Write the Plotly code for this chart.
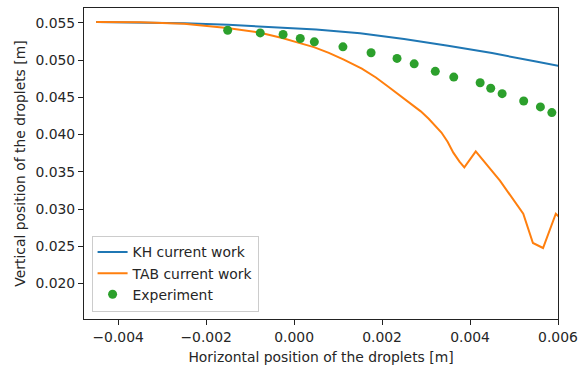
import plotly.graph_objects as go

# KH current work (blue)
kh_x = [-0.0045, -0.0035, -0.0025, -0.0015, -0.0005, 0.0005, 0.0015, 0.0025, 0.0035, 0.0045, 0.0055, 0.0061]
kh_y = [0.05513, 0.05509, 0.05496, 0.05476, 0.05449, 0.05412, 0.05362, 0.05285, 0.05195, 0.05095, 0.04981, 0.04914]

# TAB current work (orange)
tab_x = [-0.0045, -0.0035, -0.0025, -0.00215, -0.00152, -0.00077, -0.00027, 0.00011, 0.00045,
         0.00079, 0.00113, 0.00154, 0.00186, 0.00215, 0.00242, 0.00267, 0.00288, 0.00306, 0.00322,
         0.00335, 0.00349, 0.00362, 0.00376, 0.00387, 0.00413, 0.00468, 0.00521, 0.00543,
         0.00566, 0.00595, 0.00604]
tab_y = [0.05513, 0.05508, 0.05490, 0.05469, 0.05433, 0.05369, 0.05299, 0.05232, 0.05175,
         0.05099, 0.05008, 0.04887, 0.04767, 0.04640, 0.04519, 0.04408, 0.04312, 0.04212, 0.04118,
         0.04028, 0.03904, 0.03757, 0.03636, 0.03560, 0.03774, 0.03382, 0.02936, 0.02543,
         0.02476, 0.02936, 0.02883]

# Experiment (green dots)
exp_x = [-0.00151, -0.00077, -0.00025, 0.00014, 0.00046, 0.00111, 0.00175, 0.00234, 0.00273,
         0.00321, 0.00363, 0.00423, 0.00447, 0.00473, 0.00522, 0.00560, 0.00586]
exp_y = [0.05402, 0.05366, 0.05345, 0.05291, 0.05246, 0.05179, 0.05099, 0.05024, 0.04951,
         0.04850, 0.04773, 0.04697, 0.04622, 0.04550, 0.04452, 0.04372, 0.04296]

x_ticks = [-0.004, -0.002, 0.0, 0.002, 0.004, 0.006]
y_ticks = [0.020, 0.025, 0.030, 0.035, 0.040, 0.045, 0.050, 0.055]

FONT = "DejaVu Sans"
fs = 13.9
TXT = "#262626"

fig = go.Figure()
fig.add_trace(go.Scatter(x=kh_x, y=kh_y, mode="lines", name="KH current work",
                         line=dict(color="#1f77b4", width=2), legendgroup="a"))
fig.add_trace(go.Scatter(x=tab_x, y=tab_y, mode="lines", name="TAB current work",
                         line=dict(color="#ff7f0e", width=2), legendgroup="b"))
fig.add_trace(go.Scatter(x=exp_x, y=exp_y, mode="markers", name="Experiment",
                         marker=dict(color="#2ca02c", size=9), legendgroup="c"))

axis_common = dict(showgrid=False, zeroline=False, showline=True, linecolor="#222222", linewidth=1.1,
                   mirror=True, ticks="outside", ticklen=5, tickwidth=1.1, tickcolor="#222222",
                   tickfont=dict(family=FONT, size=fs, color=TXT))

fig.update_xaxes(range=[-0.004777, 0.006], tickvals=x_ticks,
                 ticktext=[f"{v:.3f}".replace("-", "\u2212") for v in x_ticks],
                 title=dict(text="Horizontal position of the droplets [m]",
                            font=dict(family=FONT, size=fs, color=TXT), standoff=8),
                 **axis_common)
fig.update_yaxes(range=[0.01522, 0.05701], tickvals=y_ticks,
                 ticktext=[f"{v:.3f}" for v in y_ticks],
                 title=dict(text="Vertical position of the droplets [m]",
                            font=dict(family=FONT, size=fs, color=TXT), standoff=6),
                 **axis_common)

fig.update_layout(
    width=585, height=374,
    margin=dict(l=84, r=25, t=7, b=55),
    paper_bgcolor="white", plot_bgcolor="white",
    font=dict(family=FONT, size=fs, color=TXT),
    legend=dict(x=0.016, y=0.024, xanchor="left", yanchor="bottom",
                bgcolor="rgba(255,255,255,0.8)", bordercolor="#cccccc", borderwidth=1,
                font=dict(family=FONT, size=fs, color=TXT),
                traceorder="grouped", tracegroupgap=0),
    showlegend=True,
)

fig.write_html("out.html")
